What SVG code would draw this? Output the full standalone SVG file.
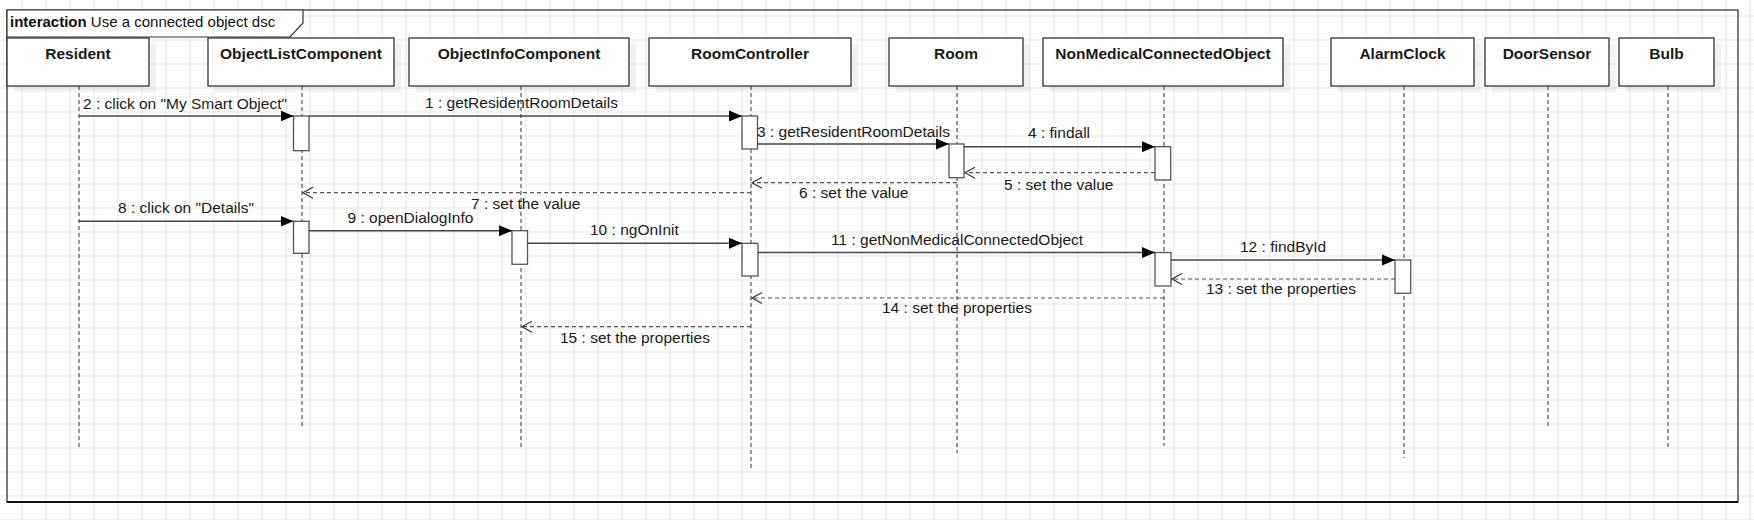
<svg xmlns="http://www.w3.org/2000/svg" width="1754" height="520" viewBox="0 0 1754 520">
<defs>
<pattern id="grid" patternUnits="userSpaceOnUse" x="21.5" y="15.5" width="24" height="24">
<path d="M0 0.5 H24 M0.5 0 V24" stroke="#e6e6e6" stroke-width="1" fill="none"/>
</pattern>
<marker id="filled" markerWidth="14" markerHeight="12" refX="13" refY="6" orient="auto" markerUnits="userSpaceOnUse">
<path d="M0 0.5 L13 6 L0 11.5 Z" fill="#000"/>
</marker>
<marker id="open" markerWidth="14" markerHeight="14" refX="11" refY="7" orient="auto" markerUnits="userSpaceOnUse">
<path d="M1 1.5 L11 7 L1 12.5" fill="none" stroke="#333" stroke-width="1.2"/>
</marker>
<style>
.head{fill:#fff;stroke:#333;stroke-width:1.3}
.shadow{fill:#000;opacity:0.05}
.hl{font-family:"Liberation Sans",Arial,sans-serif;font-size:15.5px;font-weight:bold;fill:#1a1a1a;text-anchor:middle}
.life{stroke:#444;stroke-width:1.1;stroke-dasharray:4 3;fill:none}
.act{fill:#fff;stroke:#555;stroke-width:1.3}
.msg{stroke:#444;stroke-width:1.5;fill:none;marker-end:url(#filled)}
.ret{stroke:#555;stroke-width:1.2;stroke-dasharray:4 3;fill:none;marker-end:url(#open)}
.lbl{font-family:"Liberation Sans",Arial,sans-serif;font-size:15.5px;fill:#1a1a1a}
</style>
</defs>
<rect x="0" y="0" width="1754" height="520" fill="#fff"/>
<rect x="0" y="0" width="1754" height="520" fill="url(#grid)"/>

<g id="frame">
<rect x="7" y="10" width="1731" height="492" fill="none" stroke="#333" stroke-width="1.3"/>
<line x1="7" y1="502" x2="1738" y2="502" stroke="#111" stroke-width="2.2"/>
<path d="M7 10 H303 V23 L290 37 H7 Z" fill="#fff" stroke="#333" stroke-width="1.2"/>
<text x="10" y="27" font-family="'Liberation Sans',Arial,sans-serif" font-size="15px" fill="#111"><tspan font-weight="bold">interaction</tspan> Use a connected object dsc</text>
</g>

<g id="Resident">
<rect class="shadow" x="14" y="44" width="142" height="48"/>
<rect class="head" x="7" y="38" width="142" height="48"/>
<text class="hl" x="78" y="59">Resident</text>
<line class="life" x1="79" y1="86" x2="79" y2="450"/>
</g>
<g id="ObjectListComponent">
<rect class="shadow" x="215" y="44" width="186" height="48"/>
<rect class="head" x="208" y="38" width="186" height="48"/>
<text class="hl" x="301" y="59">ObjectListComponent</text>
<line class="life" x1="302" y1="86" x2="302" y2="429"/>
<rect class="act" x="293.5" y="116" width="15.5" height="34.7"/>
<rect class="act" x="293.5" y="221.3" width="15.5" height="32"/>
</g>
<g id="ObjectInfoComponent">
<rect class="shadow" x="416" y="44" width="220" height="48"/>
<rect class="head" x="409" y="38" width="220" height="48"/>
<text class="hl" x="519" y="59">ObjectInfoComponent</text>
<line class="life" x1="521" y1="86" x2="521" y2="450"/>
<rect class="act" x="512" y="230.7" width="15.5" height="33.6"/>
</g>
<g id="RoomController">
<rect class="shadow" x="656" y="44" width="202" height="48"/>
<rect class="head" x="649" y="38" width="202" height="48"/>
<text class="hl" x="750" y="59">RoomController</text>
<line class="life" x1="751" y1="86" x2="751" y2="469"/>
<rect class="act" x="742" y="116" width="15.5" height="33"/>
<rect class="act" x="742" y="243.3" width="16" height="32.7"/>
</g>
<g id="Room">
<rect class="shadow" x="896" y="44" width="134" height="48"/>
<rect class="head" x="889" y="38" width="134" height="48"/>
<text class="hl" x="956" y="59">Room</text>
<line class="life" x1="957" y1="86" x2="957" y2="453"/>
<rect class="act" x="949" y="144" width="15" height="33.7"/>
</g>
<g id="NonMedicalConnectedObject">
<rect class="shadow" x="1050" y="44" width="240" height="48"/>
<rect class="head" x="1043" y="38" width="240" height="48"/>
<text class="hl" x="1163" y="59">NonMedicalConnectedObject</text>
<line class="life" x1="1164" y1="86" x2="1164" y2="446"/>
<rect class="act" x="1155" y="146.7" width="15.7" height="33.3"/>
<rect class="act" x="1155" y="252.5" width="16" height="33.5"/>
</g>
<g id="AlarmClock">
<rect class="shadow" x="1338" y="44" width="143" height="48"/>
<rect class="head" x="1331" y="38" width="143" height="48"/>
<text class="hl" x="1402.5" y="59">AlarmClock</text>
<line class="life" x1="1404" y1="86" x2="1404" y2="458"/>
<rect class="act" x="1395" y="260" width="15.7" height="33.3"/>
</g>
<g id="DoorSensor">
<rect class="shadow" x="1492" y="44" width="124" height="48"/>
<rect class="head" x="1485" y="38" width="124" height="48"/>
<text class="hl" x="1547" y="59">DoorSensor</text>
<line class="life" x1="1548" y1="86" x2="1548" y2="429"/>
</g>
<g id="Bulb">
<rect class="shadow" x="1626" y="44" width="95" height="48"/>
<rect class="head" x="1619" y="38" width="95" height="48"/>
<text class="hl" x="1666.5" y="59">Bulb</text>
<line class="life" x1="1668" y1="86" x2="1668" y2="450"/>
</g>

<g id="connectors">
<line class="msg" x1="79" y1="116" x2="293.5" y2="116"/>
<text class="lbl" x="83" y="109">2 : click on "My Smart Object"</text>
<line class="msg" x1="309" y1="116" x2="742" y2="116"/>
<text class="lbl" x="425" y="108">1 : getResidentRoomDetails</text>
<line class="msg" x1="757.5" y1="144" x2="949" y2="144"/>
<text class="lbl" x="757" y="136.5">3 : getResidentRoomDetails</text>
<line class="msg" x1="964" y1="146.7" x2="1155" y2="146.7"/>
<text class="lbl" x="1028" y="138.3">4 : findall</text>
<line class="ret" x1="1155" y1="172.7" x2="965" y2="172.7"/>
<text class="lbl" x="1004" y="190">5 : set the value</text>
<line class="ret" x1="957" y1="182.7" x2="752" y2="182.7"/>
<text class="lbl" x="799" y="198.3">6 : set the value</text>
<line class="ret" x1="751" y1="192.7" x2="303" y2="192.7"/>
<text class="lbl" x="471" y="209.3">7 : set the value</text>
<line class="msg" x1="79" y1="221.3" x2="293.5" y2="221.3"/>
<text class="lbl" x="118" y="213">8 : click on "Details"</text>
<line class="msg" x1="309" y1="230.7" x2="512" y2="230.7"/>
<text class="lbl" x="347.5" y="223">9 : openDialogInfo</text>
<line class="msg" x1="527.5" y1="243.3" x2="742" y2="243.3"/>
<text class="lbl" x="590" y="235">10 : ngOnInit</text>
<line class="msg" x1="758" y1="252.5" x2="1155" y2="252.5"/>
<text class="lbl" x="831" y="245">11 : getNonMedicalConnectedObject</text>
<line class="msg" x1="1171" y1="260" x2="1395" y2="260"/>
<text class="lbl" x="1240" y="251.7">12 : findById</text>
<line class="ret" x1="1395" y1="279" x2="1172" y2="279"/>
<text class="lbl" x="1206" y="294.3">13 : set the properties</text>
<line class="ret" x1="1164" y1="298" x2="752" y2="298"/>
<text class="lbl" x="882" y="313.3">14 : set the properties</text>
<line class="ret" x1="751" y1="326.7" x2="522" y2="326.7"/>
<text class="lbl" x="560" y="342.7">15 : set the properties</text>
</g>
</svg>
